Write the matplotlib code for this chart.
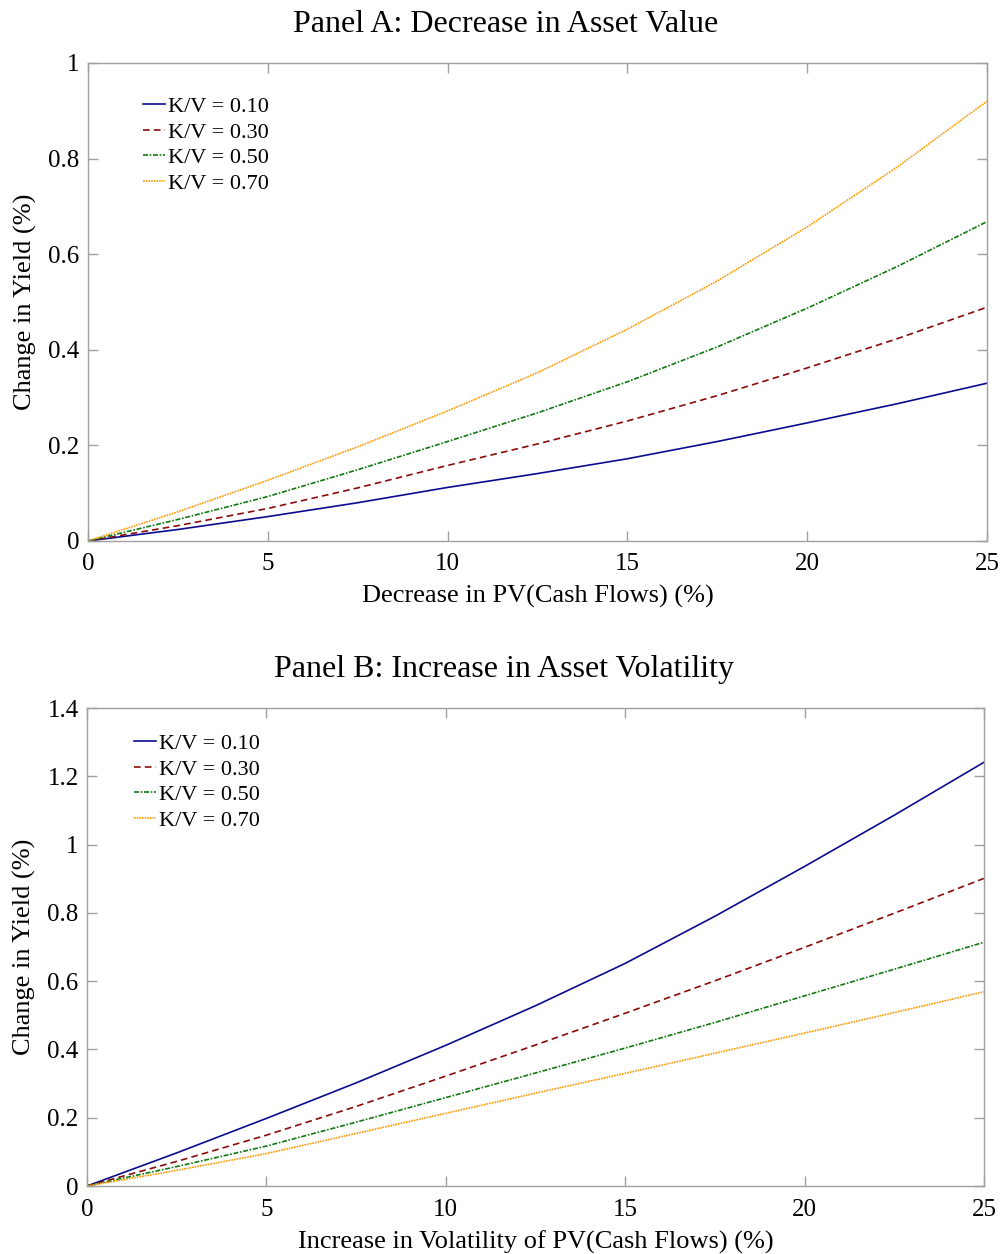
import matplotlib
matplotlib.use('Agg')
import matplotlib.pyplot as plt
from matplotlib.ticker import FuncFormatter

plt.rcParams['font.family'] = ['Liberation Serif', 'DejaVu Serif']

# x grid (%)
x = [0, 2.5, 5, 7.5, 10, 12.5, 15, 17.5, 20, 22.5, 25]

labels = ['K/V = 0.10', 'K/V = 0.30', 'K/V = 0.50', 'K/V = 0.70']

# Panel A: decrease in asset value
a_kv10 = [0, 0.024, 0.051, 0.080, 0.112, 0.141, 0.172, 0.208, 0.247, 0.287, 0.330]
a_kv30 = [0, 0.032, 0.068, 0.111, 0.158, 0.203, 0.251, 0.304, 0.362, 0.423, 0.489]
a_kv50 = [0, 0.045, 0.093, 0.149, 0.208, 0.268, 0.333, 0.406, 0.487, 0.574, 0.668]
a_kv70 = [0, 0.061, 0.127, 0.197, 0.272, 0.352, 0.443, 0.544, 0.657, 0.782, 0.920]

# Panel B: increase in asset volatility
b_kv10 = [0, 0.097, 0.198, 0.302, 0.412, 0.528, 0.652, 0.790, 0.936, 1.086, 1.241]
b_kv30 = [0, 0.072, 0.149, 0.233, 0.322, 0.413, 0.506, 0.601, 0.699, 0.799, 0.901]
b_kv50 = [0, 0.057, 0.117, 0.187, 0.259, 0.331, 0.404, 0.479, 0.557, 0.635, 0.714]
b_kv70 = [0, 0.046, 0.095, 0.154, 0.213, 0.272, 0.330, 0.389, 0.448, 0.508, 0.569]

colors = ['#0b0b8f', '#8b0b0b', '#127812', '#ff9900']
styles = ['-', (0, (4, 2.5)), (0, (3, 1, 1, 1)), (0, (1, 0.6))]

fig = plt.figure(figsize=(10.03, 12.54), dpi=100)
axA = fig.add_axes([0.0877, 0.5686, 0.8963, 0.3812])
axB = fig.add_axes([0.0867, 0.0542, 0.8943, 0.3812])


def style_axes(ax, ymax, xlabel, title, leg_x, leg_y):
    ax.set_xlim(0, 25)
    ax.set_ylim(0, ymax)
    ax.set_xticks([0, 5, 10, 15, 20, 25])
    ax.yaxis.set_major_formatter(FuncFormatter(lambda v, p: '%g' % round(v, 2)))
    for s in ax.spines.values():
        s.set_color('#a0a0a0')
        s.set_linewidth(1.0)
    ax.tick_params(direction='in', top=True, right=True, length=7, width=1,
                   color='#a0a0a0', labelsize=18, pad=6)
    ax.tick_params(axis='x', pad=9)
    ax.set_xlabel(xlabel, fontsize=19, labelpad=7)
    ax.set_ylabel('Change in Yield (%)', fontsize=19, labelpad=8)
    ax.set_title(title, fontsize=23, pad=22, x=0.465)
    ax.legend(loc='upper left', bbox_to_anchor=(leg_x, leg_y), frameon=False,
              fontsize=16, handlelength=1.0, handletextpad=0.15,
              labelspacing=0.22, borderaxespad=0)


for ys, c, ls, lab in zip([a_kv10, a_kv30, a_kv50, a_kv70], colors, styles, labels):
    axA.plot(x, ys, color=c, linestyle=ls, linewidth=1.2, label=lab)
style_axes(axA, 1.0, 'Decrease in PV(Cash Flows) (%)',
           'Panel A: Decrease in Asset Value', 0.051, 0.948)
axA.set_yticks([0, 0.2, 0.4, 0.6, 0.8, 1.0])

for ys, c, ls, lab in zip([b_kv10, b_kv30, b_kv50, b_kv70], colors, styles, labels):
    axB.plot(x, ys, color=c, linestyle=ls, linewidth=1.2, label=lab)
style_axes(axB, 1.4, 'Increase in Volatility of PV(Cash Flows) (%)',
           'Panel B: Increase in Asset Volatility', 0.042, 0.965)
axB.set_yticks([0, 0.2, 0.4, 0.6, 0.8, 1.0, 1.2, 1.4])

fig.savefig('out.png', dpi=100)
